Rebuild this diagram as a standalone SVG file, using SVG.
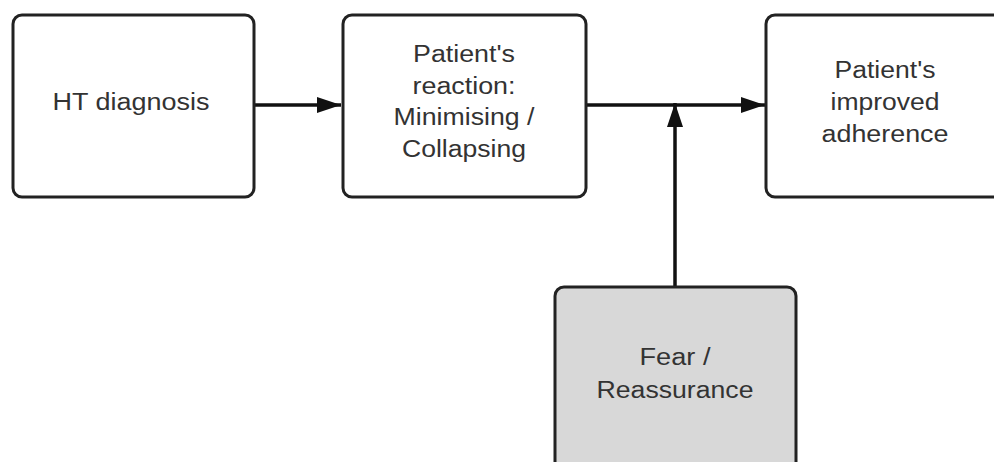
<svg xmlns="http://www.w3.org/2000/svg" width="994" height="462" viewBox="0 0 994 462">
  <style>
    .box { fill: #ffffff; stroke: #222222; stroke-width: 3; }
    .box.grey { fill: #d8d8d8; }
    .lbl { font-family: "Liberation Sans", Arial, sans-serif; font-size: 23px; fill: #333333; text-anchor: middle; }
    .conn { stroke: #111111; stroke-width: 3.5; fill: none; }
  </style>
  <defs>
    <marker id="arrow" viewBox="0 0 24 16" refX="24" refY="8" markerWidth="24" markerHeight="16" markerUnits="userSpaceOnUse" orient="auto">
      <path d="M0,0 L24,8 L0,16 Z" fill="#111111"/>
    </marker>
  </defs>
  <rect width="994" height="462" fill="#ffffff"/>

  <g id="connectors">
    <line class="conn" x1="254" y1="105" x2="341" y2="105" marker-end="url(#arrow)"/>
    <line class="conn" x1="586" y1="105" x2="765" y2="105" marker-end="url(#arrow)"/>
    <line class="conn" x1="675" y1="287" x2="675" y2="103" marker-end="url(#arrow)"/>
  </g>

  <g id="ht-diagnosis">
    <rect class="box" x="13" y="15" width="241" height="182" rx="9"/>
    <text class="lbl" x="131" y="110" textLength="157" lengthAdjust="spacingAndGlyphs">HT diagnosis</text>
  </g>

  <g id="patient-reaction">
    <rect class="box" x="343" y="15" width="243" height="182" rx="9"/>
    <text class="lbl" x="464" y="62" textLength="102" lengthAdjust="spacingAndGlyphs">Patient's</text>
    <text class="lbl" x="464" y="93.5" textLength="103" lengthAdjust="spacingAndGlyphs">reaction:</text>
    <text class="lbl" x="464" y="125" textLength="141" lengthAdjust="spacingAndGlyphs">Minimising /</text>
    <text class="lbl" x="464" y="157" textLength="124" lengthAdjust="spacingAndGlyphs">Collapsing</text>
  </g>

  <g id="improved-adherence">
    <rect class="box" x="766" y="15" width="250" height="182" rx="9"/>
    <text class="lbl" x="885" y="78" textLength="101" lengthAdjust="spacingAndGlyphs">Patient's</text>
    <text class="lbl" x="885" y="110" textLength="109" lengthAdjust="spacingAndGlyphs">improved</text>
    <text class="lbl" x="885" y="142" textLength="127" lengthAdjust="spacingAndGlyphs">adherence</text>
  </g>

  <g id="fear-reassurance">
    <rect class="box grey" x="555" y="287" width="241" height="200" rx="9"/>
    <text class="lbl" x="675" y="365" textLength="71" lengthAdjust="spacingAndGlyphs">Fear /</text>
    <text class="lbl" x="675" y="398" textLength="157" lengthAdjust="spacingAndGlyphs">Reassurance</text>
  </g>
</svg>
